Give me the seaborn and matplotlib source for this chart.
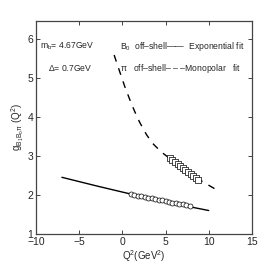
import matplotlib
matplotlib.use("Agg")
import matplotlib.pyplot as plt
import seaborn as sns

# Exponential fit (B0 off-shell)
exp_q2 = [-7.0, -3.0, 1.0, 5.0, 10.0]
exp_g = [2.45, 2.23, 2.02, 1.82, 1.60]

# Monopolar fit (pi off-shell)
mono_q2 = [-0.95, -0.5, 0.3, 1.0, 1.5, 2.0, 2.8, 3.5, 4.5, 5.5, 6.5, 7.5, 8.5, 9.5, 11.0]
mono_g = [5.58, 5.28, 4.76, 4.36, 4.10, 3.86, 3.54, 3.32, 3.10, 2.93, 2.77, 2.61, 2.45, 2.31, 2.12]

# B0 off-shell sum-rule points (circles)
b0_q2 = [1.0, 1.4, 1.8, 2.2, 2.6, 3.0, 3.4, 3.8, 4.2, 4.6, 5.0, 5.4, 5.8, 6.2, 6.6, 7.0, 7.4, 7.8]
b0_g = [2.02, 2.00, 1.98, 1.96, 1.95, 1.93, 1.91, 1.89, 1.87, 1.86, 1.84, 1.82, 1.80, 1.79, 1.77, 1.76, 1.74, 1.72]

# pi off-shell sum-rule points (squares)
pi_q2 = [5.5, 5.8, 6.1, 6.4, 6.7, 7.0, 7.3, 7.6, 7.9, 8.2, 8.5, 8.8]
pi_g = [2.94, 2.89, 2.84, 2.79, 2.74, 2.69, 2.64, 2.59, 2.54, 2.49, 2.44, 2.38]

x_ticks = [-10, -5, 0, 5, 10, 15]
x_tick_labels = ["\u221210", "\u22125", "0", "5", "10", "15"]
y_ticks = [1, 2, 3, 4, 5, 6]

sns.set_style("ticks")
plt.rcParams['font.family'] = ['Liberation Sans Narrow', 'Liberation Sans', 'DejaVu Sans']
plt.rcParams['mathtext.fontset'] = 'custom'
plt.rcParams['mathtext.rm'] = 'Liberation Sans'
plt.rcParams['mathtext.it'] = 'Liberation Sans'

fig = plt.figure(figsize=(2.78, 2.73), dpi=100)
ax = fig.add_axes([0.1295, 0.143, 0.7765, 0.78])

sns.lineplot(x=exp_q2, y=exp_g, ax=ax, color='black', lw=1.0, sort=False)
sns.lineplot(x=mono_q2, y=mono_g, ax=ax, color='black', lw=1.0, sort=False,
             linestyle=(0, (5, 5)))
sns.scatterplot(x=b0_q2, y=b0_g, ax=ax, marker='o', s=13, facecolor='white',
                edgecolor='black', linewidth=0.5, zorder=3)
sns.scatterplot(x=pi_q2, y=pi_g, ax=ax, marker='s', s=13, facecolor='white',
                edgecolor='black', linewidth=0.5, zorder=3)

ax.set_xlim(-10, 15)
ax.set_ylim(1, 6.45)
ax.set_xticks(x_ticks)
ax.set_yticks(y_ticks)
ax.set_xticklabels(x_tick_labels)
ax.tick_params(direction='in', top=True, right=True, labelsize=7.5, length=3, width=0.6, pad=2)
for sp in ax.spines.values():
    sp.set_color('#444444')
    sp.set_linewidth(0.9)

ax.set_xlabel("Q$^2$(GeV$^2$)", fontsize=7, labelpad=1)
ax.set_ylabel("g$_{\\mathrm{B_1B_o\\pi}}$ (Q$^2$)", fontsize=7, labelpad=1)

fs = 6.2
ax.text(0.02, 0.87, "m$_\\mathrm{b}$= 4.67GeV", transform=ax.transAxes, fontsize=fs)
ax.text(0.055, 0.765, "$\\Delta$= 0.7GeV", transform=ax.transAxes, fontsize=fs)
ax.text(0.39, 0.87, "B$_0$  off\u2013shell\u2014\u2014  Exponential fit", transform=ax.transAxes, fontsize=fs)
ax.text(0.39, 0.765, "$\\pi$   off\u2013shell\u2013 \u2013 \u2013Monopolar   fit", transform=ax.transAxes, fontsize=fs)

fig.savefig("out.png", dpi=100)
